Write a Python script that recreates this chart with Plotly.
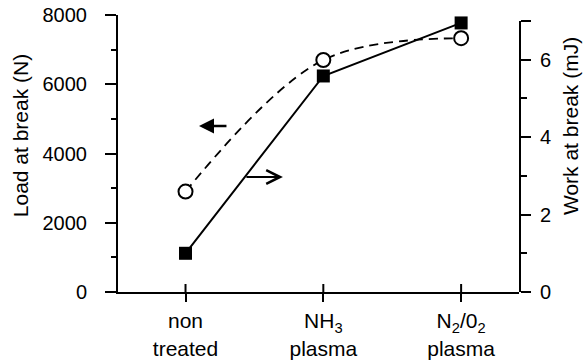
import plotly.graph_objects as go

categories = ["non<br>treated", "NH<sub>3</sub><br>plasma", "N<sub>2</sub>/0<sub>2</sub><br>plasma"]
load_N = [2900, 6700, 7330]
work_mJ = [1.0, 5.58, 6.95]

FONT = "Liberation Sans, Arial, Helvetica, sans-serif"
idx = list(range(len(categories)))

fig = go.Figure()
fig.add_trace(go.Scatter(
    x=idx, y=work_mJ, yaxis="y2", mode="lines+markers",
    line=dict(color="black", width=2),
    marker=dict(symbol="square", size=13, color="black"),
    cliponaxis=False, showlegend=False))
fig.add_trace(go.Scatter(
    x=idx, y=load_N, mode="lines+markers",
    line=dict(color="black", width=1.8, dash="9px,6px", shape="spline", smoothing=1),
    marker=dict(symbol="circle", size=14, color="white", line=dict(color="black", width=2)),
    cliponaxis=False, showlegend=False))

# inside half of the crossing category ticks
shapes = [dict(type="line", xref="x", yref="paper", x0=i, x1=i, y0=0, y1=8/277,
               layer="above", line=dict(color="black", width=2)) for i in idx]

xr = [-0.49, 2.42]
fig.update_layout(
    width=583, height=361,
    margin=dict(l=118, r=64, t=15, b=69),
    paper_bgcolor="white", plot_bgcolor="rgba(0,0,0,0)",
    font=dict(family=FONT, size=20, color="black"),
    xaxis=dict(range=xr, tickvals=idx, ticktext=categories, showgrid=False, zeroline=False,
               showline=True, linecolor="black", linewidth=2, automargin=False,
               ticks="outside", ticklen=8, tickwidth=2, tickcolor="black",
               tickfont=dict(size=21), ticklabelstandoff=1),
    yaxis=dict(range=[0, 8000], tickvals=[0, 2000, 4000, 6000, 8000], showgrid=False, zeroline=False,
               showline=True, linecolor="black", linewidth=2, automargin=False,
               ticks="outside", ticklen=11, tickwidth=2, tickcolor="black",
               minor=dict(dtick=1000, ticks="outside", ticklen=5, tickwidth=2, tickcolor="black"),
               tickfont=dict(size=20), ticklabelstandoff=14),
    yaxis2=dict(range=[0, 7], domain=[0, 271/277], anchor="x", side="right",
                tickvals=[0, 2, 4, 6, 7], ticktext=["0", "2", "4", "6", ""],
                showgrid=False, zeroline=False, showline=True, linecolor="black", linewidth=2,
                automargin=False,
                ticks="outside", ticklen=10, tickwidth=2, tickcolor="black",
                minor=dict(dtick=1, ticks="outside", ticklen=6, tickwidth=2, tickcolor="black"),
                tickfont=dict(size=20), ticklabelstandoff=5),
    shapes=shapes,
    annotations=[
        dict(text="Load at break (N)", xref="paper", yref="paper", x=-0.244, y=0.563,
             textangle=-90, showarrow=False, xanchor="center", yanchor="middle",
             font=dict(size=21)),
        dict(text="Work at break (mJ)", xref="paper", yref="paper", x=1.127, y=0.599,
             textangle=-90, showarrow=False, xanchor="center", yanchor="middle",
             font=dict(size=21)),
        dict(text="", x=0.098, y=4794, ax=0.308, ay=4794, xref="x", yref="y",
             axref="x", ayref="y", showarrow=True, arrowhead=2, arrowsize=1.2,
             arrowwidth=2.5, arrowcolor="black"),
        dict(text="", x=0.707, y=3321, ax=0.431, ay=3321, xref="x", yref="y",
             axref="x", ayref="y", showarrow=True, arrowhead=5, arrowsize=1.5,
             arrowwidth=1.8, arrowcolor="black"),
    ],
)

fig.write_html("out.html")
